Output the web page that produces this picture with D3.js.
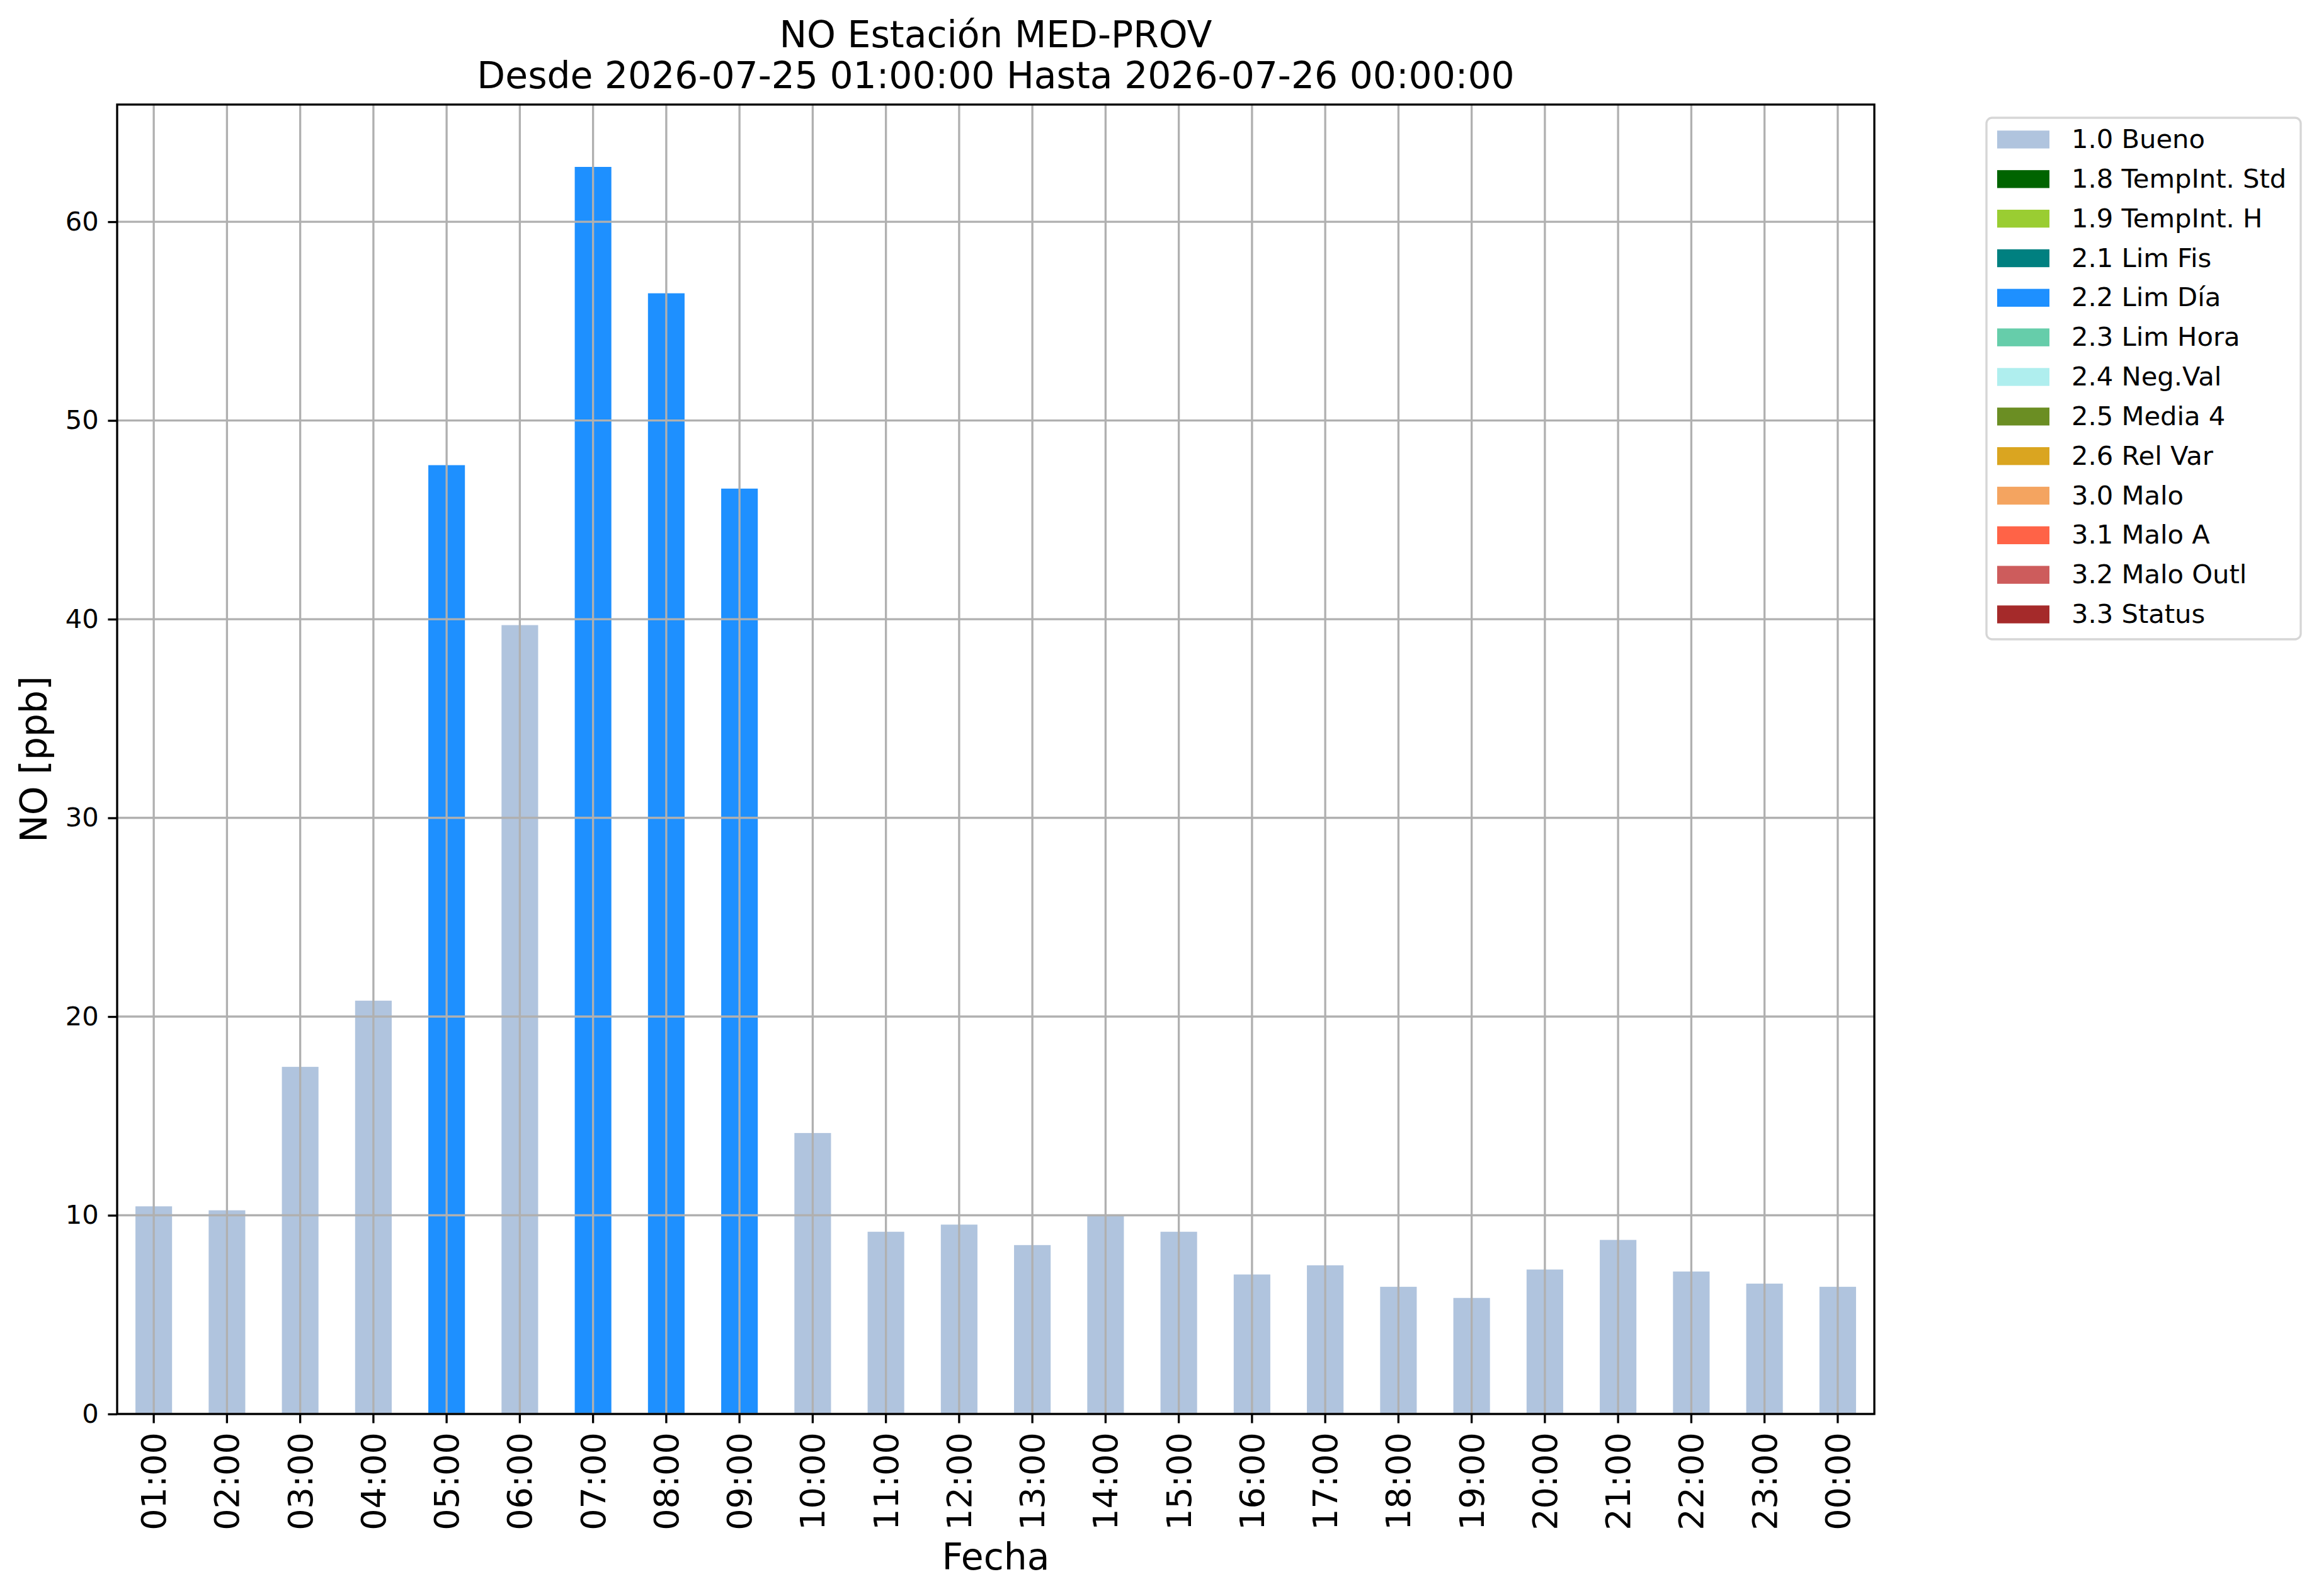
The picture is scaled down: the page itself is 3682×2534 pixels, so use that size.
<!DOCTYPE html>
<html>
<head>
<meta charset="utf-8">
<script src="https://cdn.jsdelivr.net/npm/d3@7"></script>
<style>
  body { margin: 0; background: #fff; }
  text { font-family: "DejaVu Sans", sans-serif; fill: #000; }
</style>
</head>
<body>
<div id="chart"></div>
<script>
// hourly NO values and their quality flag
let hours = ["01:00", "02:00", "03:00", "04:00", "05:00", "06:00", "07:00", "08:00",
    "09:00", "10:00", "11:00", "12:00", "13:00", "14:00", "15:00", "16:00",
    "17:00", "18:00", "19:00", "20:00", "21:00", "22:00", "23:00", "00:00"];
let values = [10.45, 10.25, 17.47, 20.8, 47.75, 39.7, 62.76, 56.4,
    46.57, 14.14, 9.17, 9.53, 8.5, 9.99, 9.17, 7.02,
    7.48, 6.4, 5.84, 7.27, 8.76, 7.17, 6.56, 6.4];
let flags = ["1.0", "1.0", "1.0", "1.0", "2.2", "1.0", "2.2", "2.2",
    "2.2", "1.0", "1.0", "1.0", "1.0", "1.0", "1.0", "1.0",
    "1.0", "1.0", "1.0", "1.0", "1.0", "1.0", "1.0", "1.0"];
let yTicks = [0, 10, 20, 30, 40, 50, 60];

let legendCodes = ["1.0", "1.8", "1.9", "2.1", "2.2", "2.3", "2.4", "2.5", "2.6", "3.0", "3.1", "3.2", "3.3"];
let legendNames = ["Bueno", "TempInt. Std", "TempInt. H", "Lim Fis", "Lim Día", "Lim Hora",
    "Neg.Val", "Media 4", "Rel Var", "Malo", "Malo A", "Malo Outl", "Status"];
let legendColors = ["lightsteelblue", "darkgreen", "yellowgreen", "teal", "dodgerblue",
    "mediumaquamarine", "paleturquoise", "olivedrab", "goldenrod", "sandybrown",
    "tomato", "indianred", "brown"];

let W = 3682, H = 2534;
let axL = 186, axT = 166, axR = 2976, axB = 2245;
let lw = 3.33, tickLen = 14.6, pad = 14.6;

let svg = d3.select("#chart").append("svg")
    .attr("width", W)
    .attr("height", H);

svg.append("rect").attr("width", W).attr("height", H).attr("fill", "#fff");

let x = d3.scaleBand()
    .domain(hours)
    .range([axL, axR])
    .paddingInner(0.5)
    .paddingOuter(0.25);

let y = d3.scaleLinear()
    .domain([0, d3.max(values) * 1.05])
    .range([axB, axT]);

let colorOf = d3.scaleOrdinal().domain(legendCodes).range(legendColors);

// bars
svg.append("g").selectAll("rect")
    .data(values)
    .join("rect")
    .attr("x", (d, i) => x(hours[i]))
    .attr("y", d => y(d))
    .attr("width", x.bandwidth())
    .attr("height", d => y(0) - y(d))
    .attr("fill", (d, i) => colorOf(flags[i]));

// grid on top of bars
let grid = svg.append("g")
    .attr("stroke", "#b0b0b0")
    .attr("stroke-width", lw);
grid.selectAll(".vg")
    .data(hours)
    .join("line")
    .attr("class", "vg")
    .attr("x1", d => x(d) + x.bandwidth() / 2)
    .attr("x2", d => x(d) + x.bandwidth() / 2)
    .attr("y1", axT)
    .attr("y2", axB);
grid.selectAll(".hg")
    .data(yTicks)
    .join("line")
    .attr("class", "hg")
    .attr("x1", axL)
    .attr("x2", axR)
    .attr("y1", d => y(d))
    .attr("y2", d => y(d));

// axes
let xAxis = svg.append("g")
    .attr("transform", "translate(0," + axB + ")")
    .call(d3.axisBottom(x).tickSize(tickLen).tickPadding(pad).tickSizeOuter(0));
xAxis.select(".domain").remove();
xAxis.selectAll("line").attr("stroke", "#000").attr("stroke-width", lw);
xAxis.selectAll("text")
    .attr("font-size", 54)
    .attr("font-family", "DejaVu Sans")
    .attr("fill", "#000")
    .attr("transform", "rotate(-90)")
    .attr("x", -(tickLen + pad))
    .attr("y", 0)
    .attr("dy", "0.35em")
    .attr("text-anchor", "end");

let yAxis = svg.append("g")
    .attr("transform", "translate(" + axL + ",0)")
    .call(d3.axisLeft(y).tickValues(yTicks).tickFormat(d3.format("d"))
        .tickSize(tickLen).tickPadding(pad).tickSizeOuter(0));
yAxis.select(".domain").remove();
yAxis.selectAll("line").attr("stroke", "#000").attr("stroke-width", lw);
yAxis.selectAll("text")
    .attr("font-size", 41.67)
    .attr("fill", "#000")
    .attr("font-family", "DejaVu Sans");

// spines
svg.append("rect")
    .attr("x", axL)
    .attr("y", axT)
    .attr("width", axR - axL)
    .attr("height", axB - axT)
    .attr("fill", "none")
    .attr("stroke", "#000")
    .attr("stroke-width", lw);

// titles and labels
let cx = (axL + axR) / 2;
svg.append("text")
    .attr("x", cx).attr("y", 75)
    .attr("text-anchor", "middle")
    .attr("font-size", 58.33)
    .text("NO Estación MED-PROV");
svg.append("text")
    .attr("x", cx).attr("y", 140)
    .attr("text-anchor", "middle")
    .attr("font-size", 58.33)
    .text("Desde 2026-07-25 01:00:00 Hasta 2026-07-26 00:00:00");
svg.append("text")
    .attr("x", cx).attr("y", 2492)
    .attr("text-anchor", "middle")
    .attr("font-size", 58.33)
    .text("Fecha");
svg.append("text")
    .attr("transform", "translate(74," + (axT + axB) / 2 + ") rotate(-90)")
    .attr("text-anchor", "middle")
    .attr("font-size", 58.33)
    .text("NO [ppb]");

// legend
let lg = svg.append("g");
lg.append("rect")
    .attr("x", 3154)
    .attr("y", 187)
    .attr("width", 499)
    .attr("height", 828)
    .attr("rx", 9)
    .attr("ry", 9)
    .attr("fill", "#fff")
    .attr("stroke", "#d6d6d6")
    .attr("stroke-width", lw);

let rowY = d3.scaleLinear().domain([0, legendCodes.length - 1]).range([221.5, 975.5]);
let rows = lg.selectAll(".row")
    .data(legendCodes)
    .join("g")
    .attr("class", "row")
    .attr("transform", (d, i) => "translate(0," + rowY(i) + ")");
rows.append("rect")
    .attr("x", 3171)
    .attr("y", -14.2)
    .attr("width", 83)
    .attr("height", 28.4)
    .attr("fill", d => colorOf(d));
rows.append("text")
    .attr("x", 3289)
    .attr("y", 13.5)
    .attr("font-size", 41.67)
    .text((d, i) => d + " " + legendNames[i]);
</script>
</body>
</html>
